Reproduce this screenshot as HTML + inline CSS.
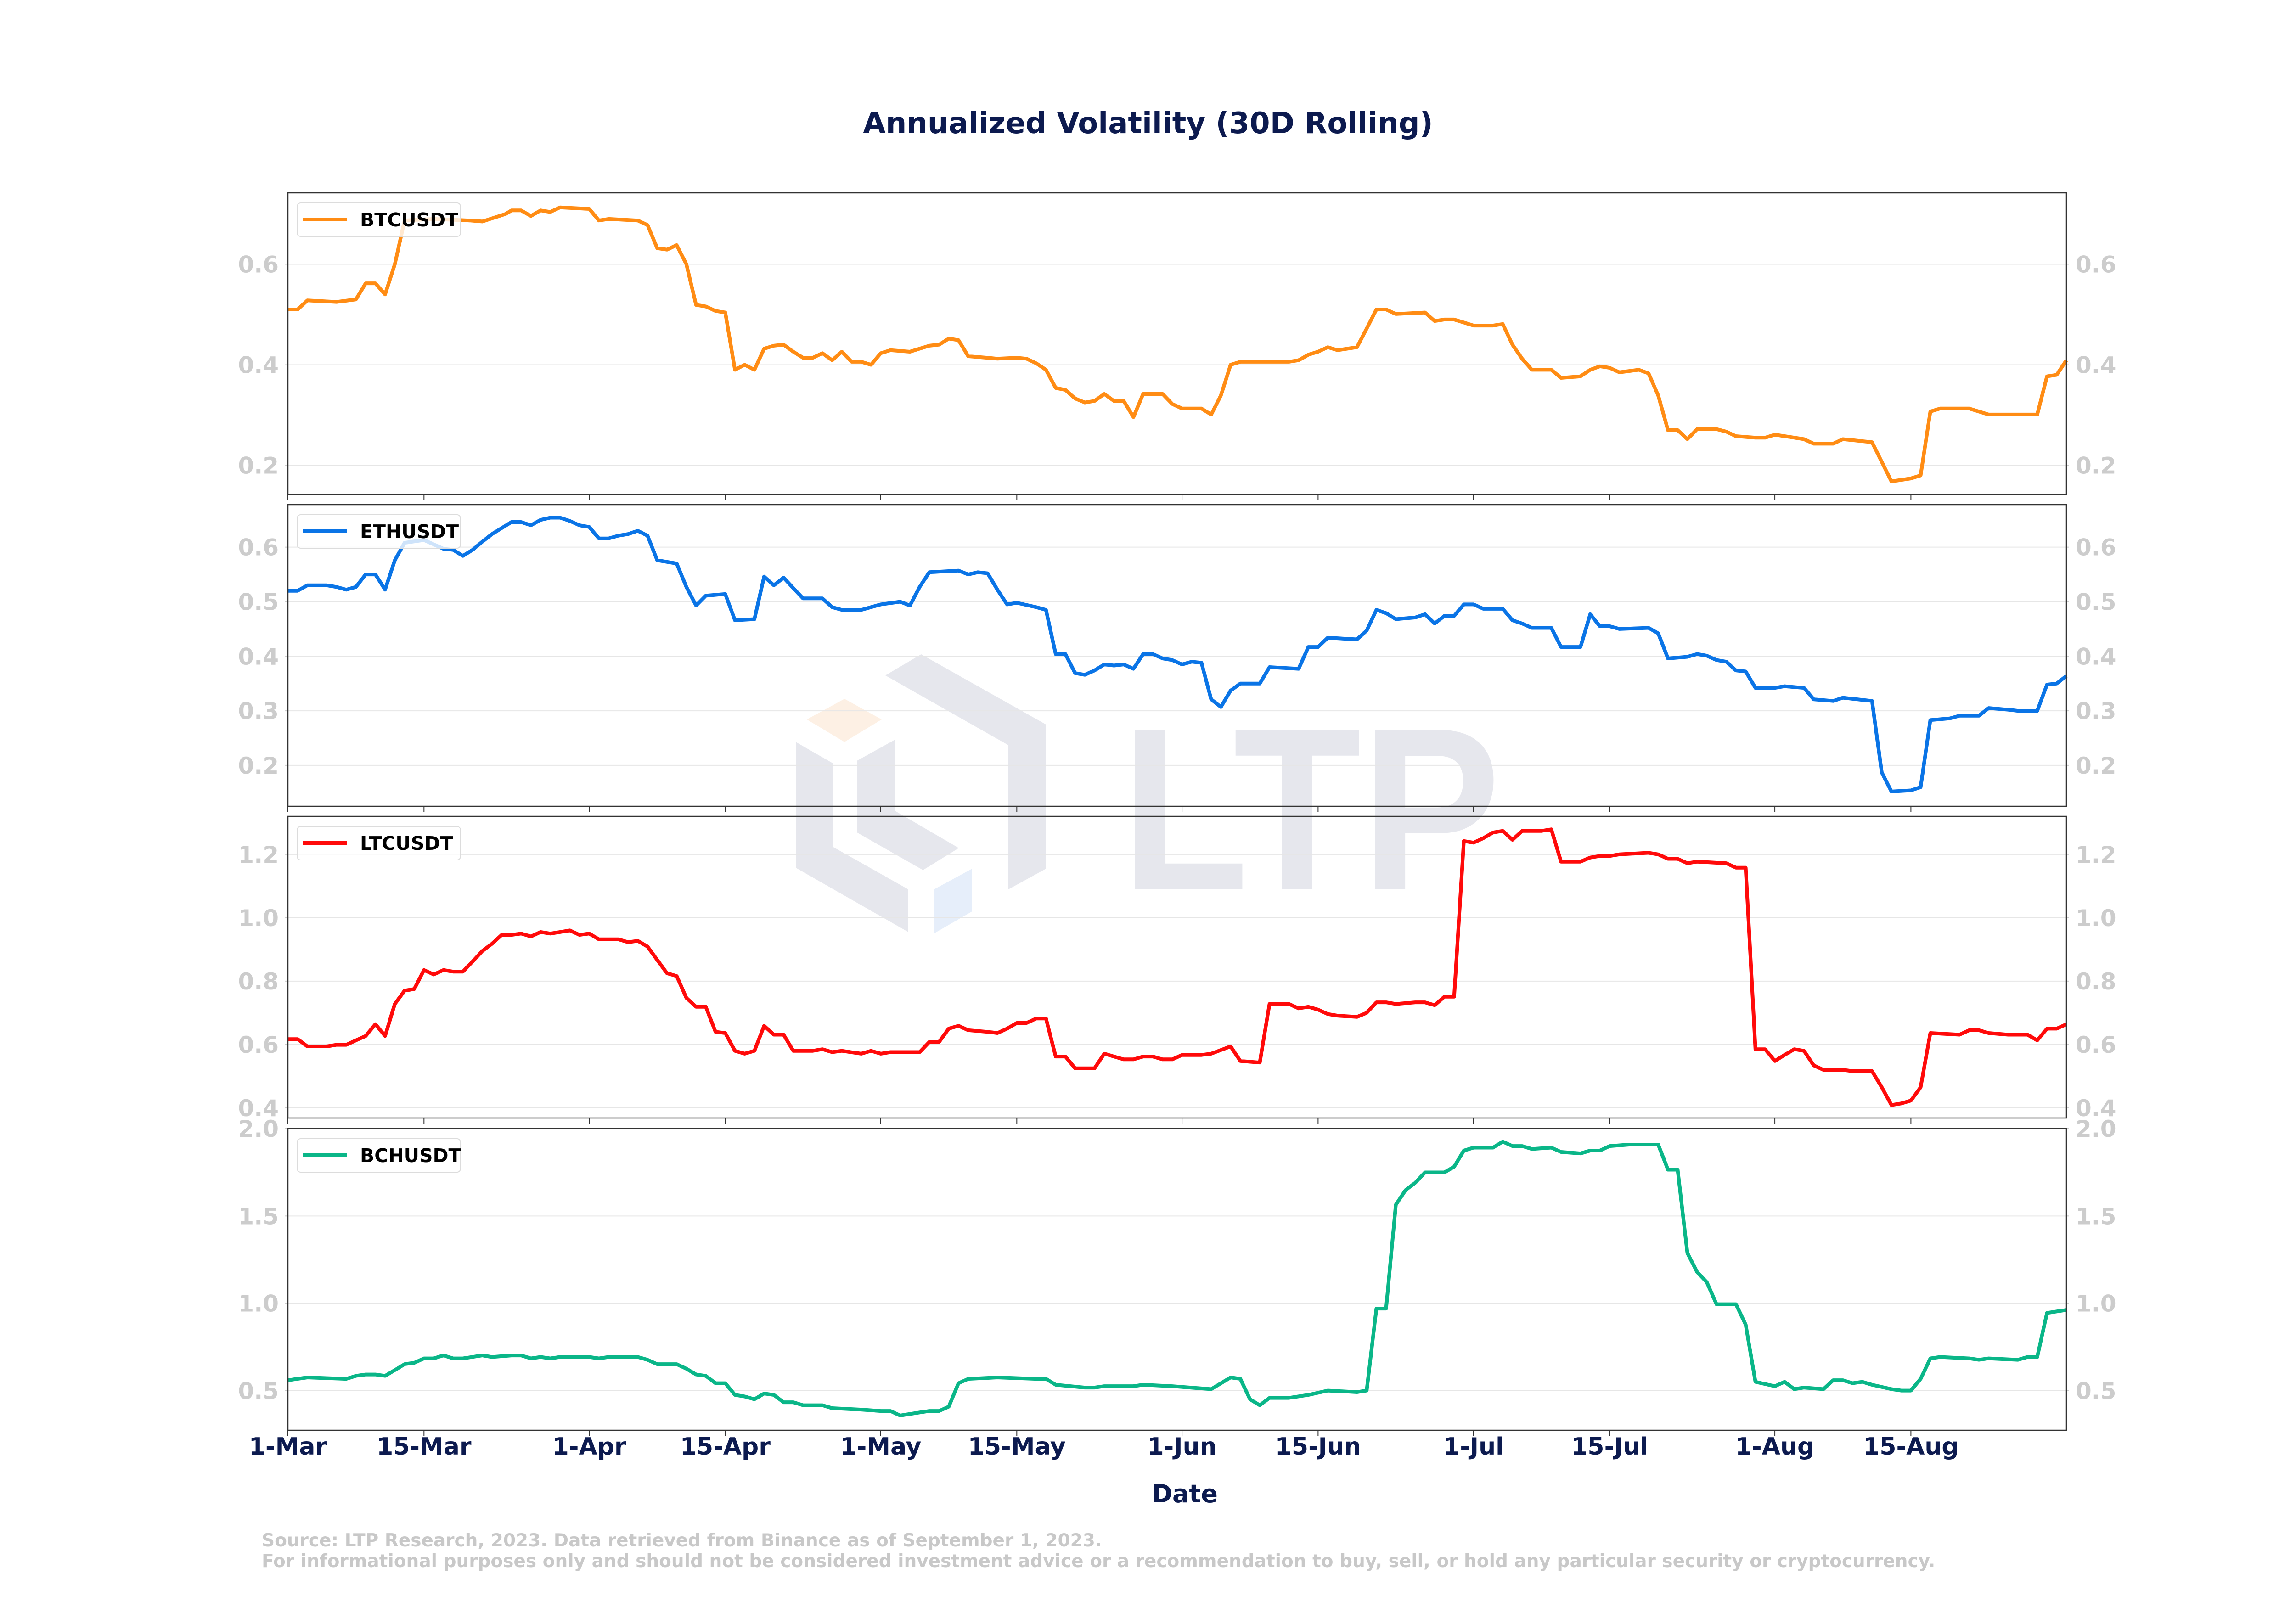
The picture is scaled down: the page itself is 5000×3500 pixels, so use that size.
<!DOCTYPE html>
<html><head><meta charset="utf-8">
<style>
html,body{margin:0;padding:0;background:#fff;}
svg{display:block;font-family:"DejaVu Sans","Liberation Sans",sans-serif;}
</style></head>
<body>
<svg id="chart" width="5000" height="3500" viewBox="0 0 5000 3500" xmlns="http://www.w3.org/2000/svg">
<rect width="5000" height="3500" fill="#fff"/>
<g id="watermark">
<polygon points="1928,1471 2006,1425 2278,1578 2278,1892 2196,1937 2196,1623" fill="#e6e7ed"/>
<polygon points="1733,1616 1813,1662 1813,1844 1978,1937 1978,2030 1733,1890" fill="#e6e7ed"/>
<polygon points="1866,1657 1949,1611 1949,1766 2088,1847 2010,1895 1866,1813" fill="#e6e7ed"/>
<polygon points="1757,1567 1839,1522 1920,1567 1839,1616" fill="#fdf0e4"/>
<polygon points="2034,1937 2117,1892 2117,1985 2034,2033" fill="#e6eefa"/>
<text x="2441" y="1937" font-family="Liberation Sans, sans-serif" font-weight="bold" font-size="505" fill="#e6e7ed" textLength="827" lengthAdjust="spacingAndGlyphs">LTP</text>
</g>
<text x="2500" y="290" text-anchor="middle" font-size="64" font-weight="bold" fill="#0c1a4f">Annualized Volatility (30D Rolling)</text>
<g id="panels"></g>
<text x="2580" y="3272" text-anchor="middle" font-size="54" font-weight="bold" fill="#0c1a4f">Date</text>
<text x="570" y="3368" font-size="39" font-weight="bold" fill="#c8c8c8">Source: LTP Research, 2023. Data retrieved from Binance as of September 1, 2023.</text>
<text x="570" y="3413" font-size="39" font-weight="bold" fill="#c8c8c8">For informational purposes only and should not be considered investment advice or a recommendation to buy, sell, or hold any particular security or cryptocurrency.</text>
</svg>
<script>
const dateTickDays=[0,14,31,45,61,75,92,106,122,136,153,167];
const dateTickLabels=["1-Mar","15-Mar","1-Apr","15-Apr","1-May","15-May","1-Jun","15-Jun","1-Jul","15-Jul","1-Aug","15-Aug"];

const btcDays=[0,1,2,5,7,8,9,10,11,12,15,18.7,20,22.4,23,24,25,26,27,28,31,32,33,36,37,38,39,40,41,42,43,44,45,46,47,48,49,50,51,52,53,54,55,56,57,58,59,60,61,62,64,66,67,68,69,70,72,73,75,76,77,78,79,80,81,82,83,84,85,86,87,88,90,91,92,94,95,96,97,98,100,103,104,105,106,107,108,110,111,112,113,114,117,118,119,120,122,124,125,126,127,128,130,131,133,134,135,136,137,139,140,141,142,143,144,145,147,148,149,151,152,153,156,157,159,160,163,165,167,168,169,170,173,174,175,178,180,181,182,183];
const btcVals=[0.51,0.51,0.528,0.525,0.53,0.562,0.562,0.54,0.6,0.687,0.69,0.687,0.685,0.70,0.707,0.707,0.696,0.707,0.704,0.713,0.71,0.687,0.69,0.687,0.678,0.632,0.629,0.638,0.6,0.519,0.516,0.507,0.504,0.39,0.4,0.39,0.432,0.438,0.44,0.426,0.414,0.414,0.423,0.409,0.426,0.406,0.406,0.4,0.423,0.429,0.426,0.438,0.44,0.452,0.449,0.417,0.414,0.412,0.414,0.412,0.403,0.39,0.354,0.35,0.333,0.325,0.328,0.342,0.328,0.328,0.296,0.342,0.342,0.322,0.313,0.313,0.301,0.339,0.4,0.406,0.406,0.406,0.409,0.42,0.426,0.435,0.429,0.435,0.472,0.51,0.51,0.501,0.504,0.487,0.49,0.49,0.478,0.478,0.481,0.44,0.412,0.39,0.39,0.374,0.377,0.39,0.397,0.394,0.385,0.39,0.383,0.339,0.27,0.27,0.252,0.272,0.272,0.267,0.258,0.255,0.255,0.261,0.252,0.243,0.243,0.252,0.246,0.168,0.174,0.18,0.307,0.313,0.313,0.307,0.301,0.301,0.301,0.377,0.38,0.409];

const ethDays=[0,1,2,4,5,6,7,8,9,10,11,12,14,15,16,17,18,19,20,21,22,23,24,25,26,27,28,29,30,31,32,33,34,35,36,37,38,40,41,42,43,45,46,48,49,50,51,52,53,55,56,57,59,60,61,63,64,65,66,69,70,71,72,73,74,75,77,78,79,80,81,82,83,84,85,86,87,88,89,90,91,92,93,94,95,96,97,98,100,101,104,105,106,107,110,111,112,113,114,116,117,118,119,120,121,122,123,125,126,127,128,130,131,133,134,135,136,137,140,141,142,144,145,146,147,148,149,150,151,153,154,156,157,159,160,163,164,165,167,168,169,171,172,174,175,177,178,180,181,182,183];
const ethVals=[0.52,0.52,0.53,0.53,0.527,0.522,0.527,0.55,0.55,0.522,0.576,0.608,0.613,0.605,0.597,0.595,0.584,0.595,0.61,0.624,0.635,0.646,0.646,0.64,0.65,0.654,0.654,0.648,0.64,0.637,0.616,0.616,0.621,0.624,0.63,0.621,0.576,0.57,0.527,0.493,0.511,0.514,0.466,0.468,0.546,0.53,0.544,0.525,0.506,0.506,0.49,0.485,0.485,0.49,0.495,0.5,0.493,0.527,0.554,0.557,0.55,0.554,0.552,0.522,0.495,0.498,0.49,0.485,0.404,0.404,0.369,0.366,0.374,0.385,0.383,0.385,0.377,0.404,0.404,0.396,0.393,0.385,0.39,0.388,0.321,0.307,0.337,0.35,0.35,0.38,0.377,0.417,0.417,0.434,0.431,0.447,0.485,0.479,0.468,0.471,0.477,0.46,0.474,0.474,0.495,0.495,0.487,0.487,0.466,0.46,0.452,0.452,0.417,0.417,0.477,0.455,0.455,0.45,0.452,0.442,0.396,0.399,0.404,0.401,0.393,0.39,0.374,0.372,0.342,0.342,0.345,0.342,0.321,0.318,0.324,0.318,0.187,0.152,0.154,0.16,0.283,0.286,0.291,0.291,0.305,0.302,0.3,0.3,0.348,0.35,0.364];

const ltcDays=[0,1,2,4,5,6,7,8,9,10,11,12,13,14,15,16,17,18,19,20,21,22,23,24,25,26,27,28,29,30,31,32,34,35,36,37,38,39,40,41,42,43,44,45,46,47,48,49,50,51,52,54,55,56,57,59,60,61,62,65,66,67,68,69,70,72,73,74,75,76,77,78,79,80,81,83,84,86,87,88,89,90,91,92,94,95,97,98,100,101,103,104,105,106,107,108,110,111,112,113,114,116,117,118,119,120,121,122,123,124,125,126,127,129,130,131,133,134,135,136,137,140,141,142,143,144,145,148,149,150,151,152,153,154,155,156,157,158,160,161,163,164,165,166,167,168,169,172,173,174,175,177,179,180,181,182,183];
const ltcVals=[0.617,0.617,0.594,0.594,0.599,0.599,0.613,0.627,0.664,0.627,0.728,0.77,0.775,0.835,0.821,0.835,0.83,0.83,0.862,0.895,0.918,0.946,0.946,0.95,0.941,0.955,0.95,0.955,0.96,0.946,0.95,0.932,0.932,0.923,0.927,0.909,0.867,0.825,0.816,0.747,0.719,0.719,0.64,0.636,0.58,0.571,0.58,0.659,0.631,0.631,0.58,0.58,0.585,0.576,0.58,0.571,0.58,0.571,0.576,0.576,0.608,0.608,0.65,0.659,0.645,0.64,0.636,0.65,0.668,0.668,0.682,0.682,0.562,0.562,0.525,0.525,0.571,0.553,0.553,0.562,0.562,0.553,0.553,0.567,0.567,0.571,0.594,0.548,0.543,0.728,0.728,0.714,0.719,0.71,0.696,0.691,0.687,0.7,0.733,0.733,0.728,0.733,0.733,0.724,0.751,0.751,1.242,1.237,1.251,1.269,1.274,1.246,1.274,1.274,1.279,1.177,1.177,1.19,1.195,1.195,1.2,1.205,1.2,1.186,1.186,1.172,1.177,1.172,1.158,1.158,0.585,0.585,0.548,0.567,0.585,0.58,0.534,0.52,0.52,0.516,0.516,0.465,0.409,0.414,0.423,0.465,0.636,0.631,0.645,0.645,0.636,0.631,0.631,0.613,0.65,0.65,0.664];

const bchDays=[0,2,6,7,8,9,10,11,12,13,14,15,16,17,18,20,21,23,24,25,26,27,28,30,31,32,33,36,37,38,40,41,42,43,44,45,46,47,48,49,50,51,52,53,55,56,59,61,62,63,64,66,67,68,69,70,73,77,78,79,82,83,84,87,88,91,95,97,98,99,100,101,103,105,107,110,111,112,113,114,115,116,117,119,120,121,122,124,125,126,127,128,130,131,133,134,135,136,138,141,142,143,144,145,146,147,149,150,151,153,154,155,156,158,159,160,161,162,163,165,166,167,168,169,170,173,174,175,178,179,180,181,183];
const bchVals=[0.56,0.576,0.568,0.585,0.593,0.593,0.585,0.618,0.652,0.66,0.685,0.685,0.702,0.685,0.685,0.702,0.693,0.702,0.702,0.685,0.693,0.685,0.693,0.693,0.693,0.685,0.693,0.693,0.677,0.652,0.652,0.626,0.593,0.585,0.543,0.543,0.476,0.467,0.451,0.484,0.476,0.434,0.434,0.417,0.417,0.4,0.392,0.384,0.384,0.358,0.367,0.384,0.384,0.409,0.543,0.568,0.576,0.568,0.568,0.534,0.518,0.518,0.526,0.526,0.534,0.526,0.509,0.576,0.568,0.451,0.417,0.459,0.459,0.476,0.501,0.492,0.501,0.97,0.97,1.564,1.648,1.69,1.749,1.749,1.782,1.874,1.891,1.891,1.925,1.9,1.9,1.883,1.891,1.866,1.858,1.874,1.874,1.9,1.908,1.908,1.765,1.765,1.288,1.179,1.121,0.995,0.995,0.878,0.551,0.526,0.551,0.509,0.518,0.509,0.56,0.56,0.543,0.551,0.534,0.509,0.501,0.501,0.568,0.685,0.693,0.685,0.677,0.685,0.677,0.693,0.693,0.945,0.962];

const panelNames=["BTCUSDT","ETHUSDT","LTCUSDT","BCHUSDT"];
const panelColors=["#ff8c14","#0a74e6","#ff0a0a","#0ab688"];
const panelDays=[btcDays,ethDays,ltcDays,bchDays];
const panelVals=[btcVals,ethVals,ltcVals,bchVals];
const panelMin=[0.142,0.125,0.368,0.274];
const panelMax=[0.742,0.678,1.32,2.0];
const panelTicks=[[0.2,0.4,0.6],[0.2,0.3,0.4,0.5,0.6],[0.4,0.6,0.8,1.0,1.2],[0.5,1.0,1.5,2.0]];
const panelTickDigits=[1,1,1,1];

const NS="http://www.w3.org/2000/svg";
const L=627,R=4500;
const tops=[420,1099,1778,2458],H=657;
const xMax=183;
function X(d){return L+d*(R-L)/xMax;}
function mk(tag,attrs,parent){const e=document.createElementNS(NS,tag);for(const k in attrs)e.setAttribute(k,attrs[k]);parent.appendChild(e);return e;}
const root=document.getElementById('panels');
for(let p=0;p<4;p++){
  const top=tops[p],bot=top+H;
  const Y=v=>bot-(v-panelMin[p])/(panelMax[p]-panelMin[p])*H;
  const g=mk('g',{},root);
  
  
  panelTicks[p].forEach(t=>{
    const y=Y(t);
    const gl=mk('line',{x1:L,x2:R,y1:y,y2:y,stroke:'#e6e6e6','stroke-width':2},g);
    
    
    mk('line',{x1:L-6,x2:L,y1:y,y2:y,stroke:'#ccc','stroke-width':2},g);
    mk('line',{x1:R,x2:R+6,y1:y,y2:y,stroke:'#ccc','stroke-width':2},g);
    const lab=t.toFixed(panelTickDigits[p]);
    const tl=mk('text',{x:L-20,y:y+18,'text-anchor':'end','font-size':50,'font-weight':'bold',fill:'#cccccc'},g);
    tl.textContent=lab;
    
    
    const tr=mk('text',{x:R+20,y:y+18,'text-anchor':'start','font-size':50,'font-weight':'bold',fill:'#cccccc'},g);
    tr.textContent=lab;
    
    
  });
  dateTickDays.forEach(d=>{
    const tk=mk('line',{x1:X(d),x2:X(d),y1:bot,y2:bot+12,stroke:'#333','stroke-width':2},g);
    
    
  });
  const pts=panelDays[p].map((d,i)=>X(d).toFixed(1)+','+Y(panelVals[p][i]).toFixed(1)).join(' ');
  const line=mk('polyline',{points:pts,fill:'none',stroke:panelColors[p],'stroke-width':8,'stroke-linejoin':'round'},g);
  
  
  const fr=mk('rect',{x:L,y:top,width:R-L,height:H,fill:'none',stroke:'#333','stroke-width':2.5},g);
  
  
  const lg=mk('g',{},g);
  
  
  mk('rect',{x:647,y:top+22,width:356,height:73,rx:8,fill:'#fff','fill-opacity':0.8,stroke:'#dcdcdc','stroke-width':2},lg);
  mk('line',{x1:660,x2:755,y1:top+58,y2:top+58,stroke:panelColors[p],'stroke-width':8},lg);
  const lt=mk('text',{x:784,y:top+73,'font-size':41,'font-weight':'bold',fill:'#000'},lg);
  lt.textContent=panelNames[p];
}
const bot4=tops[3]+H;
dateTickDays.forEach((d,i)=>{
  const t=mk('text',{x:X(d),y:bot4+53,'text-anchor':'middle','font-size':52,'font-weight':'bold',fill:'#0c1a4f'},root);
  t.textContent=dateTickLabels[i];
  
  
});
</script>
</body></html>
